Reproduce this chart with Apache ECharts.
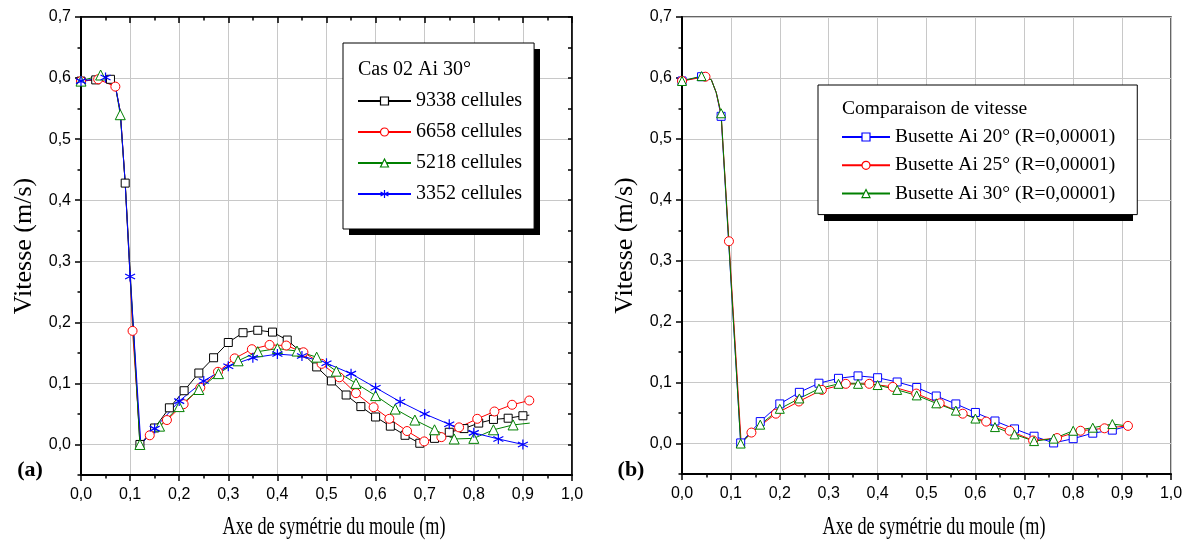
<!DOCTYPE html>
<html>
<head>
<meta charset="utf-8">
<script src="https://cdn.jsdelivr.net/npm/echarts@6/dist/echarts.min.js"></script>
<style>
html,body{margin:0;padding:0;background:#fff;}
#c{width:1191px;height:548px;}
</style>
</head>
<body>
<div id="c"></div>
<script>
// ---------- DATA ----------
const yTickValues = [0, 0.1, 0.2, 0.3, 0.4, 0.5, 0.6, 0.7];

// (a) Cas 02 Ai 30°
const blackName = '9338 cellules';
const blackX = [0, 0.03, 0.06, 0.09, 0.12, 0.15, 0.18, 0.21, 0.24, 0.27, 0.30, 0.33, 0.36, 0.39, 0.42, 0.45, 0.48, 0.51, 0.54, 0.57, 0.60, 0.63, 0.66, 0.69, 0.72, 0.75, 0.78, 0.81, 0.84, 0.87, 0.90];
const blackY = [0.595, 0.597, 0.598, 0.428, 0.000, 0.027, 0.060, 0.088, 0.117, 0.142, 0.167, 0.183, 0.187, 0.184, 0.171, 0.150, 0.127, 0.104, 0.081, 0.062, 0.045, 0.030, 0.015, 0.002, 0.010, 0.020, 0.026, 0.035, 0.041, 0.043, 0.047];
const blackLineX = [0.07, 0.08, 0.913];
const blackLineY = [0.587, 0.545, 0.048];

const redName = '6658 cellules';
const redX = [0, 0.035, 0.070, 0.105, 0.140, 0.175, 0.209, 0.243, 0.279, 0.313, 0.348, 0.384, 0.418, 0.453, 0.490, 0.526, 0.560, 0.596, 0.628, 0.664, 0.699, 0.734, 0.770, 0.807, 0.842, 0.878, 0.913];
const redY = [0.595, 0.598, 0.586, 0.186, 0.015, 0.040, 0.066, 0.093, 0.119, 0.141, 0.156, 0.163, 0.162, 0.151, 0.132, 0.110, 0.084, 0.061, 0.042, 0.022, 0.005, 0.012, 0.028, 0.042, 0.054, 0.065, 0.072];
const redLineX = [0.08, 0.09, 0.10, 0.121];
const redLineY = [0.545, 0.428, 0.275, 0.001];

const greenName = '5218 cellules';
const greenX = [0, 0.04, 0.08, 0.12, 0.16, 0.20, 0.24, 0.28, 0.32, 0.36, 0.40, 0.44, 0.48, 0.52, 0.56, 0.60, 0.64, 0.68, 0.72, 0.76, 0.80, 0.84, 0.88];
const greenY = [0.595, 0.605, 0.540, 0.000, 0.030, 0.062, 0.090, 0.116, 0.137, 0.152, 0.157, 0.153, 0.143, 0.120, 0.100, 0.080, 0.058, 0.040, 0.024, 0.009, 0.010, 0.024, 0.032];
const greenLineX = [0.06, 0.07, 0.09, 0.10, 0.914];
const greenLineY = [0.598, 0.587, 0.428, 0.275, 0.035];

const blueName = '3352 cellules';
const blueX = [0, 0.05, 0.10, 0.15, 0.20, 0.25, 0.30, 0.35, 0.40, 0.45, 0.50, 0.55, 0.60, 0.65, 0.70, 0.75, 0.80, 0.85, 0.90];
const blueY = [0.595, 0.601, 0.275, 0.026, 0.071, 0.104, 0.128, 0.142, 0.148, 0.145, 0.133, 0.116, 0.093, 0.070, 0.050, 0.033, 0.019, 0.009, 0.000];
const blueLineX = [0.07, 0.08, 0.09, 0.122];
const blueLineY = [0.587, 0.545, 0.428, 0.000];

// (b) Comparaison de vitesse
const b20Name = 'Busette Ai 20° (R=0,00001)';
const b20X = [0, 0.04, 0.08, 0.12, 0.16, 0.20, 0.24, 0.28, 0.32, 0.36, 0.40, 0.44, 0.48, 0.52, 0.56, 0.60, 0.64, 0.68, 0.72, 0.76, 0.80, 0.84, 0.88];
const b20Y = [0.595, 0.602, 0.537, 0.001, 0.036, 0.065, 0.084, 0.099, 0.107, 0.111, 0.108, 0.101, 0.092, 0.078, 0.065, 0.051, 0.037, 0.024, 0.012, 0.001, 0.008, 0.017, 0.022];
const b20LineX = [0.06, 0.07, 0.91];
const b20LineY = [0.597, 0.576, 0.028];

const b25Name = 'Busette Ai 25° (R=0,00001)';
const b25X = [0, 0.048, 0.096, 0.142, 0.192, 0.239, 0.286, 0.335, 0.383, 0.431, 0.479, 0.527, 0.574, 0.622, 0.670, 0.718, 0.767, 0.815, 0.864, 0.912];
const b25Y = [0.595, 0.602, 0.332, 0.018, 0.049, 0.069, 0.088, 0.098, 0.098, 0.093, 0.082, 0.066, 0.049, 0.036, 0.021, 0.005, 0.009, 0.021, 0.025, 0.029];
const b25LineX = [0.06, 0.07, 0.08, 0.121];
const b25LineY = [0.597, 0.576, 0.540, 0.001];

const b30Name = 'Busette Ai 30° (R=0,00001)';
const b30X = [0, 0.04, 0.08, 0.12, 0.16, 0.20, 0.24, 0.28, 0.32, 0.36, 0.40, 0.44, 0.48, 0.52, 0.56, 0.60, 0.64, 0.68, 0.72, 0.76, 0.80, 0.84, 0.88];
const b30Y = [0.595, 0.603, 0.542, 0.000, 0.031, 0.057, 0.074, 0.090, 0.098, 0.098, 0.096, 0.088, 0.079, 0.066, 0.054, 0.041, 0.027, 0.015, 0.004, 0.008, 0.021, 0.026, 0.032];
const b30LineX = [0.06, 0.07, 0.91];
const b30LineY = [0.597, 0.576, 0.029];

const titleA = 'Cas 02 Ai 30°';
const titleB = 'Comparaison de vitesse';
const xTitle = 'Axe de symétrie du moule (m)';
const yTitle = 'Vitesse (m/s)';

// ---------- BUILD ----------
function pts(mx, my, lx, ly) {
  const p = mx.map((x, i) => [x, my[i], 1]);
  lx.forEach((x, i) => p.push([x, ly[i], 0]));
  p.sort((a, b) => a[0] - b[0]);
  return p;
}
const SERIF = '"Liberation Serif", "Times New Roman", serif';
const SANS = '"Liberation Sans", Arial, sans-serif';
const STAR = 'path://M5,0L5,10M0.67,2.5L9.33,7.5M0.67,7.5L9.33,2.5';
const fmt = v => (Math.round(v * 10) / 10).toFixed(1).replace('.', ',');

function mkSeries(name, data, color, symbol, size, xi, yi, star) {
  return {
    type: 'line', name, data, xAxisIndex: xi, yAxisIndex: yi,
    symbol, symbolSize: v => (v[2] ? size : 0), showAllSymbol: true,
    lineStyle: { color, width: 1 },
    itemStyle: star ? { color, borderColor: color, borderWidth: 1.2 } : { color: '#fff', borderColor: color, borderWidth: 1 },
    emphasis: { disabled: true }, silent: true, z: 3
  };
}

function bottomX(gi) {
  return {
    gridIndex: gi, type: 'value', position: 'bottom', min: 0, max: 1, interval: 0.1,
    axisLine: { show: true, onZero: false, lineStyle: { color: '#000', width: 2 } },
    axisTick: { show: true, length: 6, lineStyle: { color: '#000', width: 1.5 } },
    minorTick: { show: true, splitNumber: 2, length: 3.5, lineStyle: { color: '#000', width: 1.5 } },
    axisLabel: { formatter: fmt, margin: 12, fontSize: 16, fontFamily: SANS, color: '#000' },
    splitLine: { show: true, lineStyle: { color: '#c8c8c8', width: 1 } }
  };
}
function leftY(gi) {
  return {
    gridIndex: gi, type: 'value', position: 'left', min: -0.05, max: 0.7, interval: 0.05,
    axisLine: { show: true, onZero: false, lineStyle: { color: '#000', width: 2 } },
    axisTick: { show: true, customValues: yTickValues, length: 6, lineStyle: { color: '#000', width: 1.5 } },
    axisLabel: { customValues: yTickValues, formatter: fmt, margin: 10, fontSize: 16, fontFamily: SANS, color: '#000' },
    splitLine: { show: true, lineStyle: { color: '#c8c8c8', width: 1 } },
    name: yTitle, nameLocation: 'middle', nameGap: 44,
    nameTextStyle: { fontFamily: SERIF, fontSize: 26, color: '#000' }
  };
}
function minorY(gi, pos, inside, len, line) {
  return {
    gridIndex: gi, type: 'value', position: pos, min: -0.05, max: 0.7, interval: 0.05,
    axisLine: { show: line, onZero: false, lineStyle: { color: '#000', width: 1.5 } },
    axisTick: { show: true, inside, length: len, lineStyle: { color: '#000', width: 1.5 } },
    axisLabel: { show: false }, splitLine: { show: false }
  };
}

const legendBase = {
  orient: 'vertical', itemHeight: 10, z: 6,
  backgroundColor: '#fff', borderColor: '#000', borderWidth: 1,
  itemStyle: { borderWidth: 1.2 }, selectedMode: false
};

const option = {
  animation: false,
  backgroundColor: '#fff',
  grid: [
    { left: 81, top: 17, width: 491, height: 458, show: true, borderColor: '#222', borderWidth: 1.5, backgroundColor: 'transparent' },
    { left: 682, top: 17, width: 489, height: 457, show: true, borderColor: '#333', borderWidth: 1.5, backgroundColor: 'transparent' }
  ],
  xAxis: [
    bottomX(0),
    {
      gridIndex: 0, type: 'value', position: 'top', min: 0, max: 1, interval: 0.1,
      axisLine: { show: true, onZero: false, lineStyle: { color: '#000', width: 1.5 } },
      axisTick: { show: true, inside: true, length: 6, lineStyle: { color: '#000', width: 1.5 } },
      minorTick: { show: true, splitNumber: 2, length: 3.5, lineStyle: { color: '#000', width: 1.5 } },
      axisLabel: { show: false }, splitLine: { show: false }
    },
    bottomX(1)
  ],
  yAxis: [
    leftY(0),
    minorY(0, 'left', false, 3.5, false),
    minorY(0, 'right', true, 4, true),
    leftY(1),
    minorY(1, 'left', false, 3.5, false)
  ],
  legend: [
    Object.assign({}, legendBase, {
      left: 343, top: 43, padding: [48, 12, 25, 14], itemWidth: 53, itemGap: 11,
      textStyle: { fontFamily: SERIF, fontSize: 20, lineHeight: 20, color: '#000' },
      data: [blackName, redName, greenName,
        { name: blueName, itemStyle: { color: '#0000ff', borderColor: '#0000ff', borderWidth: 1.2 } }]
    }),
    Object.assign({}, legendBase, {
      left: 818, top: 85, padding: [42, 22, 11, 23], itemWidth: 48, itemGap: 8.3,
      textStyle: { fontFamily: SERIF, fontSize: 19.5, lineHeight: 20, color: '#000' },
      data: [b20Name, b25Name, b30Name]
    })
  ],
  series: [
    mkSeries(blackName, pts(blackX, blackY, blackLineX, blackLineY), '#000000', 'rect', 8, 0, 0),
    mkSeries(redName, pts(redX, redY, redLineX, redLineY), '#ff0000', 'circle', 9, 0, 0),
    mkSeries(greenName, pts(greenX, greenY, greenLineX, greenLineY), '#008000', 'triangle', 10, 0, 0),
    mkSeries(blueName, pts(blueX, blueY, blueLineX, blueLineY), '#0000ff', STAR, 10, 0, 0, true),
    mkSeries(b20Name, pts(b20X, b20Y, b20LineX, b20LineY), '#0000ff', 'rect', 8, 2, 3),
    mkSeries(b25Name, pts(b25X, b25Y, b25LineX, b25LineY), '#ff0000', 'circle', 9, 2, 3),
    mkSeries(b30Name, pts(b30X, b30Y, b30LineX, b30LineY), '#008000', 'triangle', 9, 2, 3)
  ],
  graphic: [
    // drop shadows of the two legend boxes
    { type: 'rect', z: 5, silent: true, shape: { x: 349, y: 49, width: 191, height: 186 }, style: { fill: '#000' } },
    { type: 'rect', z: 5, silent: true, shape: { x: 824, y: 91, width: 309, height: 130 }, style: { fill: '#000' } },
    { type: 'text', x: 358, y: 70, z: 100, style: { text: titleA, fontFamily: SERIF, fontSize: 20, fill: '#000', align: 'left', textAlign: 'left', verticalAlign: 'middle', textVerticalAlign: 'middle' } },
    { type: 'text', x: 842, y: 109, z: 100, style: { text: titleB, fontFamily: SERIF, fontSize: 19.5, fill: '#000', align: 'left', textAlign: 'left', verticalAlign: 'middle', textVerticalAlign: 'middle' } },
    { type: 'text', x: 334, y: 527, scaleX: 0.7, z: 100, style: { text: xTitle, fontFamily: SERIF, fontSize: 26, fill: '#000', align: 'center', textAlign: 'center', verticalAlign: 'middle', textVerticalAlign: 'middle' } },
    { type: 'text', x: 934, y: 527, scaleX: 0.7, z: 100, style: { text: xTitle, fontFamily: SERIF, fontSize: 26, fill: '#000', align: 'center', textAlign: 'center', verticalAlign: 'middle', textVerticalAlign: 'middle' } },
    { type: 'text', x: 30, y: 470, z: 100, style: { text: '(a)', fontFamily: SERIF, fontSize: 22, fontWeight: 'bold', fill: '#000', align: 'center', textAlign: 'center', verticalAlign: 'middle', textVerticalAlign: 'middle' } },
    { type: 'text', x: 631, y: 470, z: 100, style: { text: '(b)', fontFamily: SERIF, fontSize: 22, fontWeight: 'bold', fill: '#000', align: 'center', textAlign: 'center', verticalAlign: 'middle', textVerticalAlign: 'middle' } }
  ]
};

const chart = echarts.init(document.getElementById('c'), null, { renderer: 'canvas' });
chart.setOption(option);
</script>
</body>
</html>
